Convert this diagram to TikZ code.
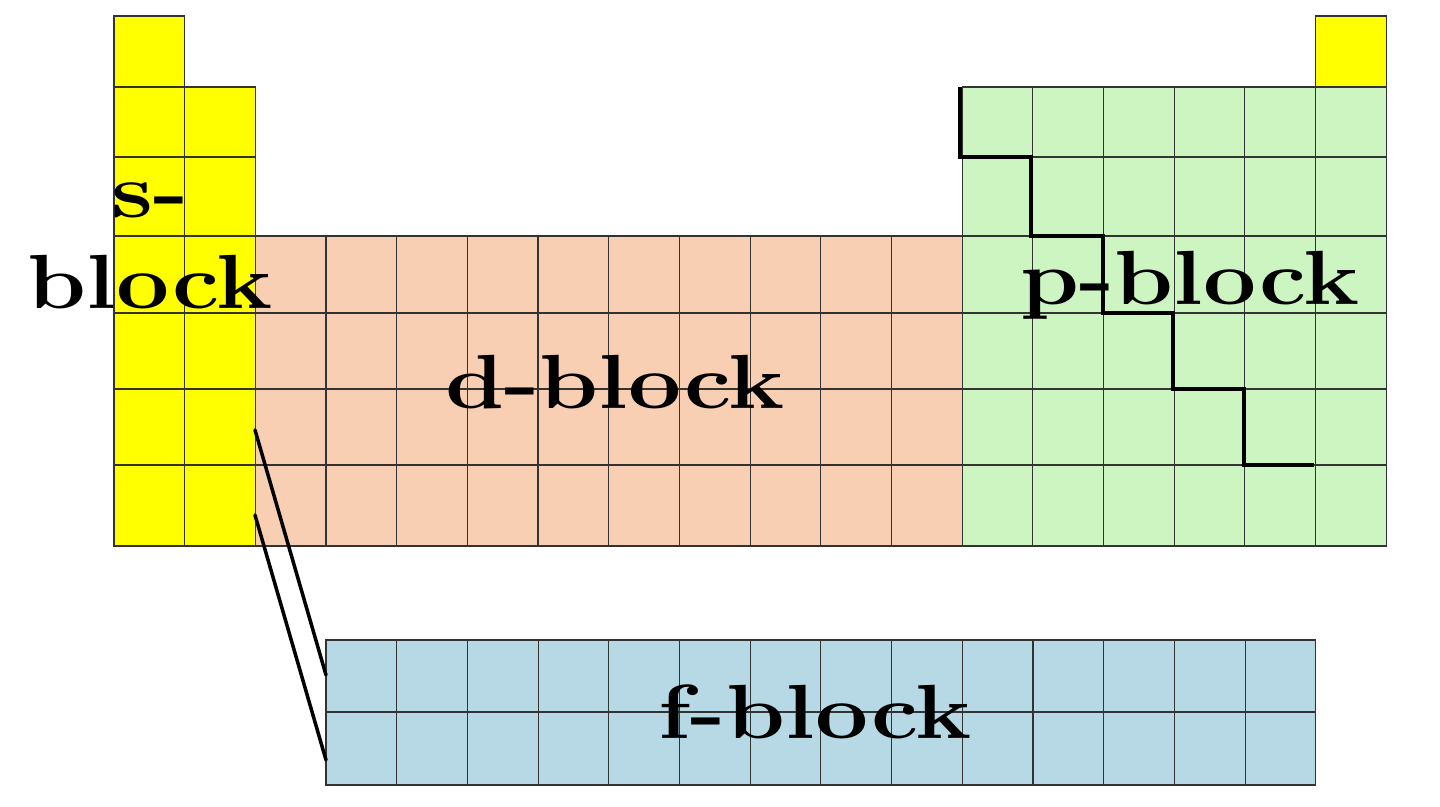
\documentclass[tikz,border=0pt]{standalone}
\usetikzlibrary{positioning}
\definecolor{sblk}{HTML}{FFFF00}
\definecolor{dblk}{HTML}{F9CFB4}
\definecolor{pblk}{HTML}{CDF5C2}
\definecolor{fblk}{HTML}{B7D9E6}
\newcommand\blk[1]{\scalebox{1.17}[0.95]{#1}}
\tikzset{
  cell/.style={draw=black!80,line width=0.6pt},
  lbl/.style={font=\fontsize{46}{48}\selectfont\bfseries,inner sep=0pt},
  edge/.style={line width=2pt,line cap=round}
}
\begin{document}
\begin{tikzpicture}[x=0.02cm,y=-0.02cm]
  \useasboundingbox (0,0) rectangle (1440,806);
  % main table
  \foreach \ya/\yb [count=\r] in {16/87,87/157,157/236,236/313,313/389,389/465,465/546}{
    \foreach \c in {1,...,18}{
      \pgfmathsetmacro\xa{114+(\c-1)*70.67}
      \pgfmathsetmacro\xb{114+\c*70.67}
      \ifnum\c<3
        \ifnum\r>1 \fill[sblk,cell] (\xa,\ya) rectangle (\xb,\yb);
        \else\ifnum\c=1 \fill[sblk,cell] (\xa,\ya) rectangle (\xb,\yb);\fi\fi
      \else\ifnum\c<13
        \ifnum\r>3 \fill[dblk,cell] (\xa,\ya) rectangle (\xb,\yb);\fi
      \else
        \ifnum\r>1 \fill[pblk,cell] (\xa,\ya) rectangle (\xb,\yb);
        \else\ifnum\c=18 \fill[sblk,cell] (\xa,\ya) rectangle (\xb,\yb);\fi\fi
      \fi\fi
    }
  }
  % f-block rows
  \foreach \ya/\yb in {640/712,712/785}{
    \foreach \c in {1,...,14}{
      \pgfmathsetmacro\xa{326+(\c-1)*70.7}
      \pgfmathsetmacro\xb{326+\c*70.7}
      \fill[fblk,cell] (\xa,\ya) rectangle (\xb,\yb);
    }
  }
  % metal line
  \draw[edge,line cap=butt] (960,87) |- (1031,157) |- (1103,236) |- (1173,313)
    |- (1244,389) |- (1314,465);
  % links to f-block
  \coordinate (la) at (255,430); \coordinate (fa) at (326,675);
  \coordinate (lb) at (255,515); \coordinate (fb) at (326,760);
  \draw[edge] (la) -- (fa);
  \draw[edge] (lb) -- (fb);
  % labels
  \node[lbl] (s1) at (150,200) {\blk{s-}};
  \node[lbl] (s2) at (150,282) {\blk{block}};
  \node[lbl] (d) at (615,382) {\blk{d-block}};
  \node[lbl] (p) at (1190,285) {\blk{p-block}};
  \node[lbl] (f) at (815,712) {\blk{f-block}};
\end{tikzpicture}
\end{document}
